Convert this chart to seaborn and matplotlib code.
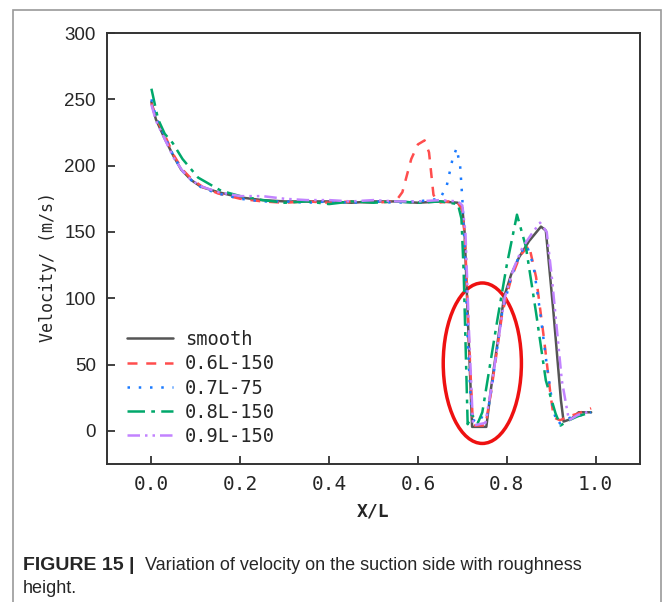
import numpy as np
import pandas as pd
import seaborn as sns
import matplotlib.pyplot as plt
from matplotlib.patches import Ellipse, Rectangle

# velocity on the suction side
smooth_x = [0, 0.01, 0.029, 0.05, 0.067, 0.09, 0.112, 0.15, 0.2, 0.25, 0.3, 0.35, 0.4, 0.45, 0.5,
            0.55, 0.6, 0.65, 0.69, 0.70, 0.705, 0.713, 0.722, 0.754, 0.765, 0.794, 0.81, 0.828,
            0.85, 0.877, 0.888, 0.905, 0.922, 0.928, 0.945, 0.962, 0.99]
smooth_y = [248, 235, 221, 207, 197, 189, 184, 180, 176, 174, 173, 173, 173, 172, 173,
            173, 172, 173, 172, 168, 150, 80, 3, 3, 33, 101, 118, 131,
            143, 154, 151, 90, 23, 7, 9, 14, 14]

r06_x = [0, 0.01, 0.03, 0.05, 0.07, 0.09, 0.115, 0.15, 0.2, 0.25, 0.3, 0.35, 0.4, 0.45, 0.5,
         0.55, 0.565, 0.585, 0.6, 0.615, 0.625, 0.635, 0.645, 0.67, 0.69, 0.70, 0.706, 0.714,
         0.724, 0.752, 0.765, 0.79, 0.81, 0.83, 0.85, 0.866, 0.884, 0.899, 0.906, 0.92, 0.94,
         0.96, 0.99]
r06_y = [247, 236, 223, 208, 197, 190, 184, 179, 175, 173, 172, 173, 172, 173, 172,
         173, 180, 205, 216, 219, 210, 178, 172, 173, 172, 166, 145, 75,
         4, 4, 30, 89, 115, 132, 140, 116, 69, 26, 10, 8, 11, 13, 17]

r07_x = [0, 0.01, 0.03, 0.05, 0.07, 0.09, 0.115, 0.15, 0.2, 0.25, 0.3, 0.35, 0.4, 0.45, 0.5,
         0.55, 0.6, 0.65, 0.665, 0.678, 0.687, 0.695, 0.70, 0.705, 0.713, 0.722, 0.735, 0.754,
         0.765, 0.79, 0.81, 0.83, 0.845, 0.86, 0.875, 0.89, 0.905, 0.915, 0.93, 0.95, 0.97, 0.99]
r07_y = [250, 237, 222, 207, 196, 189, 183, 179, 175, 173, 173, 172, 173, 172, 173,
         172, 173, 175, 185, 205, 213, 200, 175, 140, 60, 6, 12, 8,
         30, 90, 116, 134, 140, 125, 90, 50, 15, 5, 8, 11, 12, 14]

r08_x = [0, 0.015, 0.03, 0.048, 0.07, 0.105, 0.157, 0.2, 0.25, 0.3, 0.35, 0.4, 0.45, 0.5,
         0.55, 0.6, 0.65, 0.69, 0.698, 0.703, 0.712, 0.722, 0.735, 0.745, 0.779, 0.80, 0.823,
         0.843, 0.866, 0.888, 0.91, 0.921, 0.94, 0.96, 0.99]
r08_y = [258, 235, 224, 217, 205, 191, 181, 177, 174, 172, 173, 171, 173, 172,
         173, 172, 173, 171, 160, 120, 5, 12, 6, 14, 84, 125, 163,
         139, 89, 38, 13, 4, 8, 11, 14]

r09_x = [0, 0.01, 0.03, 0.05, 0.07, 0.09, 0.115, 0.15, 0.2, 0.25, 0.3, 0.35, 0.4, 0.45, 0.5,
         0.55, 0.6, 0.65, 0.69, 0.70, 0.707, 0.715, 0.724, 0.752, 0.765, 0.795, 0.815, 0.835,
         0.855, 0.875, 0.89, 0.902, 0.924, 0.94, 0.96, 0.99]
r09_y = [246, 234, 220, 206, 196, 189, 184, 180, 177, 177, 175, 174, 174, 173, 174,
         173, 173, 174, 173, 170, 150, 75, 4, 6, 32, 100, 122, 138,
         148, 157, 150, 114, 38, 8, 12, 15]

series = {
    "smooth": (smooth_x, smooth_y),
    "0.6L-150": (r06_x, r06_y),
    "0.7L-75": (r07_x, r07_y),
    "0.8L-150": (r08_x, r08_y),
    "0.9L-150": (r09_x, r09_y),
}
palette = {"smooth": "#555555", "0.6L-150": "#ff4d4d", "0.7L-75": "#1a7aff",
           "0.8L-150": "#00a86b", "0.9L-150": "#c283ff"}
dashes = {"smooth": "", "0.6L-150": (4, 3.5), "0.7L-75": (1, 3.5),
          "0.8L-150": (7, 2.5, 1.5, 2.5), "0.9L-150": (5, 2, 1, 2, 1, 2)}

frames = []
for name, (xs, ys) in series.items():
    frames.append(pd.DataFrame({"x": xs, "v": ys, "case": name}))
df = pd.concat(frames, ignore_index=True)

sns.set_style("ticks")
mono = ["DejaVu Sans Mono", "DejaVu Sans"]
arial = ["Liberation Sans", "DejaVu Sans"]

fig = plt.figure(figsize=(6.63, 6.02), dpi=100)
ax = fig.add_axes([107 / 663, 1 - 464 / 602, 533 / 663, 431 / 602])

sns.lineplot(data=df, x="x", y="v", hue="case", style="case", palette=palette,
             dashes=dashes, sort=False, estimator=None, linewidth=1.8, ax=ax)

# red ellipse marking the dip
ax.add_patch(Ellipse((0.745, 51), 0.176, 121, fill=False, edgecolor="#ee1111", linewidth=2.5))

ax.set_xlim(-0.1, 1.1)
ax.set_ylim(-25, 300)
ax.set_xticks([0.0, 0.2, 0.4, 0.6, 0.8, 1.0])
ax.set_xticklabels(["0.0", "0.2", "0.4", "0.6", "0.8", "1.0"], family=mono, fontsize=14)
ax.set_yticks([0, 50, 100, 150, 200, 250, 300])
ax.set_yticklabels(["0", "50", "100", "150", "200", "250", "300"], family=arial, fontsize=13.5)
ax.tick_params(direction="in", length=6, width=1.3, color="#333333", pad=8)
for sp in ax.spines.values():
    sp.set_visible(True)
    sp.set_linewidth(1.4)
    sp.set_color("#333333")

ax.set_xlabel("X/L", family=mono, fontsize=13, fontweight="bold", labelpad=6)
ax.set_ylabel("Velocity/ (m/s)", family=mono, fontsize=12)
ax.yaxis.set_label_coords(-0.094, 0.457)

handles, labels = ax.get_legend_handles_labels()
ax.legend(handles, labels, loc="upper left", bbox_to_anchor=(0.005, 0.35), frameon=False,
          prop={"family": mono, "size": 13.5}, handlelength=2.5, handletextpad=0.6,
          labelspacing=0.28)

# outer frame and caption
fig.patches.append(Rectangle((13 / 663, -0.01), 648 / 663, 1 - 10 / 602 + 0.01,
                             transform=fig.transFigure, fill=False, edgecolor="#9a9a9a",
                             linewidth=1.2))
cap = ["Liberation Sans", "DejaVu Sans"]
fig.text(23 / 663, 1 - 570 / 602, "FIGURE 15 |", family=cap, fontsize=14,
         fontweight="bold", va="baseline")
fig.text(145 / 663, 1 - 570 / 602, "Variation of velocity on the suction side with roughness",
         family=cap, fontsize=13, va="baseline")
fig.text(23 / 663, 1 - 593 / 602, "height.", family=cap, fontsize=13, va="baseline")

fig.savefig("out.png", dpi=100)
